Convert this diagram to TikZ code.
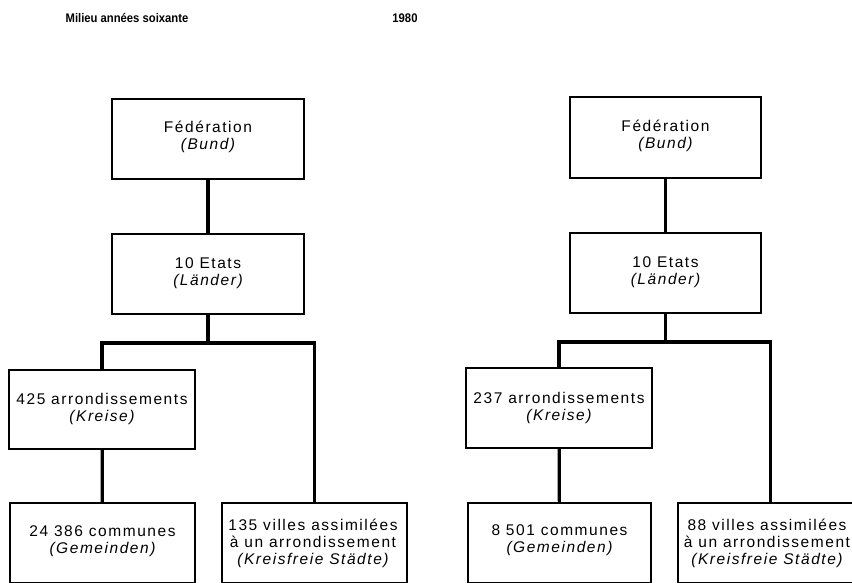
\documentclass[tikz,border=0pt]{standalone}
\usepackage{fontspec}
\setmainfont{Liberation Sans}
\newfontfamily\boxfont[LetterSpace=10]{Liberation Sans}
\newfontfamily\headfont[FakeStretch=0.9]{Liberation Sans}
\begin{document}
\begin{tikzpicture}[x=1pt,y=-1pt,
  orgbox/.style={draw,line width=1.6pt,inner sep=0pt,minimum height=80pt},
  link/.style={line width=3.2pt,line join=miter},
  lbl/.style={anchor=base,inner sep=0pt,font=\boxfont\fontsize{15.5}{17}\selectfont},
  heading/.style={anchor=base,inner sep=0pt,font=\headfont\bfseries\fontsize{12.5}{13}\selectfont}]
\useasboundingbox (0,0) rectangle (852,582);
\clip (0,0) rectangle (852,582);

% headings
\node[heading] (hA) at (127,22) {Milieu années soixante};
\node[heading] (hB) at (405,22) {1980};

% ---- mid-sixties ----
\node[orgbox,minimum width=192pt] (fedA)   at (208,139)   {};
\node[orgbox,minimum width=192pt] (etatA)  at (208,274)   {};
\node[orgbox,minimum width=186pt,minimum height=79pt] (kreisA) at (102,409.5) {};
\node[orgbox,minimum width=185pt] (commA)  at (102.5,543) {};
\node[orgbox,minimum width=185pt] (villeA) at (314.5,543) {};
\coordinate (jA) at (208,343);

\draw[link] (fedA) -- (etatA);
\draw[link] (etatA) -- (jA);
\draw[link] (kreisA) |- (jA) -| (villeA);
\draw[link] (kreisA) -- (commA);

\node[lbl] (tFedA) at (208,132) {\begin{tabular}[t]{@{}c@{}}Fédération\\\itshape(Bund)\end{tabular}};
\node[lbl] (tEtatA) at (208,268) {\begin{tabular}[t]{@{}c@{}}10 Etats\\\itshape(Länder)\end{tabular}};
\node[lbl] (tKreisA) at (102,404) {\begin{tabular}[t]{@{}c@{}}425 arrondissements\\\itshape(Kreise)\end{tabular}};
\node[lbl] (tCommA) at (102.5,536) {\begin{tabular}[t]{@{}c@{}}24 386 communes\\\itshape(Gemeinden)\end{tabular}};
\node[lbl] (tVilleA) at (313,530) {\begin{tabular}[t]{@{}c@{}}135 villes assimilées\\à un arrondissement\\\itshape(Kreisfreie Städte)\end{tabular}};

% ---- 1980 ----
\node[orgbox,minimum width=191pt,minimum height=81pt] (fedB) at (665.5,137.5) {};
\node[orgbox,minimum width=191pt] (etatB)  at (665.5,273) {};
\node[orgbox,minimum width=186pt] (kreisB) at (559,408)   {};
\node[orgbox,minimum width=183pt] (commB)  at (559.5,543) {};
\node[orgbox,minimum width=185pt] (villeB) at (770.5,543) {};
\coordinate (jB) at (665.5,342);

\draw[link] (fedB) -- (etatB);
\draw[link] (etatB) -- (jB);
\draw[link] (kreisB) |- (jB) -| (villeB);
\draw[link] (kreisB) -- (commB);

\node[lbl] (tFedB) at (665.5,131) {\begin{tabular}[t]{@{}c@{}}Fédération\\\itshape(Bund)\end{tabular}};
\node[lbl] (tEtatB) at (665.5,267) {\begin{tabular}[t]{@{}c@{}}10 Etats\\\itshape(Länder)\end{tabular}};
\node[lbl] (tKreisB) at (559,403) {\begin{tabular}[t]{@{}c@{}}237 arrondissements\\\itshape(Kreise)\end{tabular}};
\node[lbl] (tCommB) at (559.5,535) {\begin{tabular}[t]{@{}c@{}}8 501 communes\\\itshape(Gemeinden)\end{tabular}};
\node[lbl] (tVilleB) at (767,530) {\begin{tabular}[t]{@{}c@{}}88 villes assimilées\\à un arrondissement\\\itshape(Kreisfreie Städte)\end{tabular}};
\end{tikzpicture}
\end{document}
